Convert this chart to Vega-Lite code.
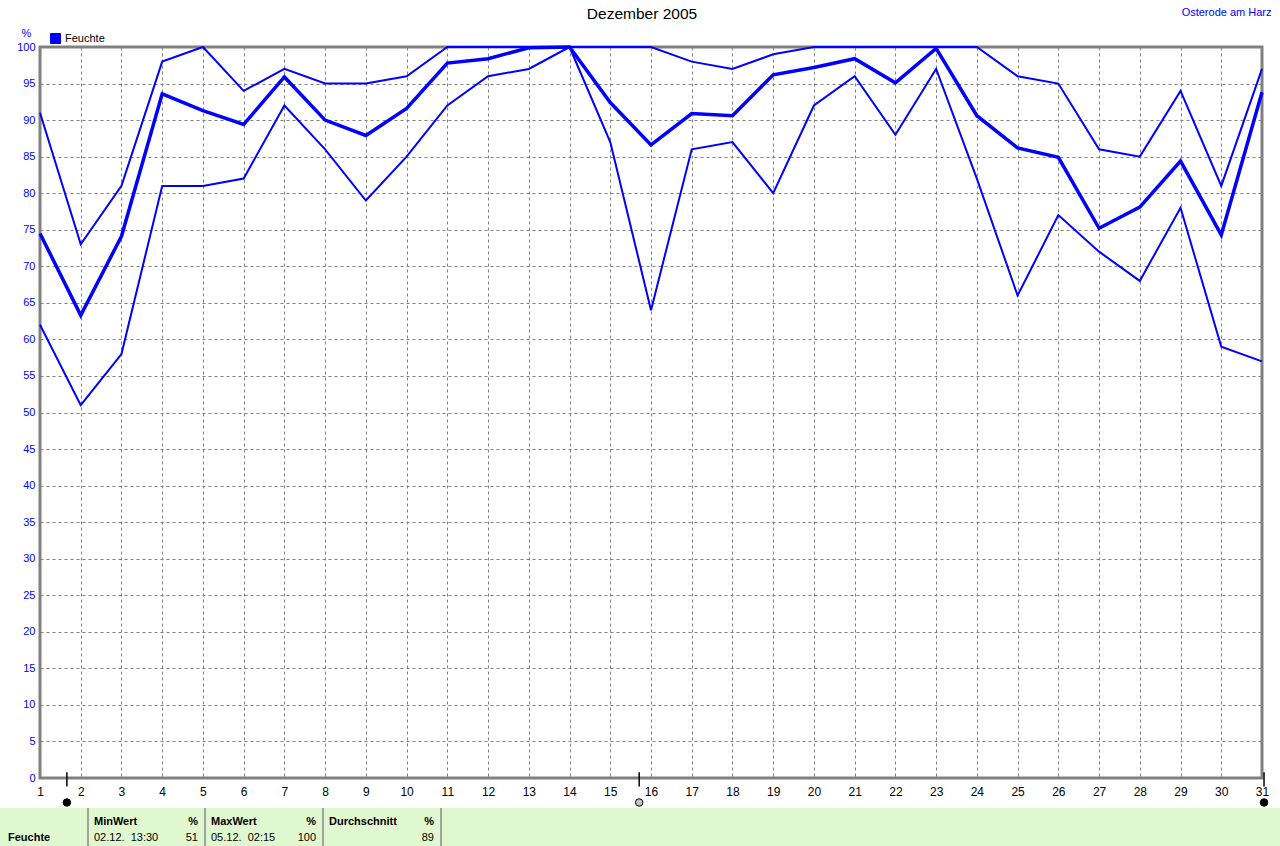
{
  "$schema": "https://vega.github.io/schema/vega-lite/v6.json",
  "width": 1222,
  "height": 731,
  "autosize": {"type": "none"},
  "padding": {"left": 40, "top": 47, "right": 18, "bottom": 68},
  "background": "white",
  "config": {
    "font": "Liberation Sans",
    "view": {"stroke": "#808080", "strokeWidth": 3}
  },
  "title": {
    "text": "Dezember 2005",
    "fontSize": 15.5,
    "fontWeight": "normal",
    "color": "black",
    "anchor": "middle",
    "frame": "group",
    "dx": -9,
    "dy": 20,
    "offset": 4
  },
  "datasets": {
    "hum": [
      {"day": 1, "stat": "max", "value": 91}, {"day": 2, "stat": "max", "value": 73}, {"day": 3, "stat": "max", "value": 81},
      {"day": 4, "stat": "max", "value": 98}, {"day": 5, "stat": "max", "value": 100}, {"day": 6, "stat": "max", "value": 94},
      {"day": 7, "stat": "max", "value": 97}, {"day": 8, "stat": "max", "value": 95}, {"day": 9, "stat": "max", "value": 95},
      {"day": 10, "stat": "max", "value": 96}, {"day": 11, "stat": "max", "value": 100}, {"day": 12, "stat": "max", "value": 100},
      {"day": 13, "stat": "max", "value": 100}, {"day": 14, "stat": "max", "value": 100}, {"day": 15, "stat": "max", "value": 100},
      {"day": 16, "stat": "max", "value": 100}, {"day": 17, "stat": "max", "value": 98}, {"day": 18, "stat": "max", "value": 97},
      {"day": 19, "stat": "max", "value": 99}, {"day": 20, "stat": "max", "value": 100}, {"day": 21, "stat": "max", "value": 100},
      {"day": 22, "stat": "max", "value": 100}, {"day": 23, "stat": "max", "value": 100}, {"day": 24, "stat": "max", "value": 100},
      {"day": 25, "stat": "max", "value": 96}, {"day": 26, "stat": "max", "value": 95}, {"day": 27, "stat": "max", "value": 86},
      {"day": 28, "stat": "max", "value": 85}, {"day": 29, "stat": "max", "value": 94}, {"day": 30, "stat": "max", "value": 81},
      {"day": 31, "stat": "max", "value": 97},
      {"day": 1, "stat": "avg", "value": 74.5}, {"day": 2, "stat": "avg", "value": 63.3}, {"day": 3, "stat": "avg", "value": 74.1},
      {"day": 4, "stat": "avg", "value": 93.6}, {"day": 5, "stat": "avg", "value": 91.3}, {"day": 6, "stat": "avg", "value": 89.4},
      {"day": 7, "stat": "avg", "value": 95.9}, {"day": 8, "stat": "avg", "value": 90.0}, {"day": 9, "stat": "avg", "value": 87.9},
      {"day": 10, "stat": "avg", "value": 91.6}, {"day": 11, "stat": "avg", "value": 97.8}, {"day": 12, "stat": "avg", "value": 98.4},
      {"day": 13, "stat": "avg", "value": 99.9}, {"day": 14, "stat": "avg", "value": 100}, {"day": 15, "stat": "avg", "value": 92.4},
      {"day": 16, "stat": "avg", "value": 86.6}, {"day": 17, "stat": "avg", "value": 90.9}, {"day": 18, "stat": "avg", "value": 90.6},
      {"day": 19, "stat": "avg", "value": 96.2}, {"day": 20, "stat": "avg", "value": 97.2}, {"day": 21, "stat": "avg", "value": 98.4},
      {"day": 22, "stat": "avg", "value": 95.1}, {"day": 23, "stat": "avg", "value": 99.8}, {"day": 24, "stat": "avg", "value": 90.6},
      {"day": 25, "stat": "avg", "value": 86.2}, {"day": 26, "stat": "avg", "value": 84.9}, {"day": 27, "stat": "avg", "value": 75.2},
      {"day": 28, "stat": "avg", "value": 78.1}, {"day": 29, "stat": "avg", "value": 84.4}, {"day": 30, "stat": "avg", "value": 74.3},
      {"day": 31, "stat": "avg", "value": 93.8},
      {"day": 1, "stat": "min", "value": 62}, {"day": 2, "stat": "min", "value": 51}, {"day": 3, "stat": "min", "value": 58},
      {"day": 4, "stat": "min", "value": 81}, {"day": 5, "stat": "min", "value": 81}, {"day": 6, "stat": "min", "value": 82},
      {"day": 7, "stat": "min", "value": 92}, {"day": 8, "stat": "min", "value": 86}, {"day": 9, "stat": "min", "value": 79},
      {"day": 10, "stat": "min", "value": 85}, {"day": 11, "stat": "min", "value": 92}, {"day": 12, "stat": "min", "value": 96},
      {"day": 13, "stat": "min", "value": 97}, {"day": 14, "stat": "min", "value": 100}, {"day": 15, "stat": "min", "value": 87},
      {"day": 16, "stat": "min", "value": 64}, {"day": 17, "stat": "min", "value": 86}, {"day": 18, "stat": "min", "value": 87},
      {"day": 19, "stat": "min", "value": 80}, {"day": 20, "stat": "min", "value": 92}, {"day": 21, "stat": "min", "value": 96},
      {"day": 22, "stat": "min", "value": 88}, {"day": 23, "stat": "min", "value": 97}, {"day": 24, "stat": "min", "value": 82},
      {"day": 25, "stat": "min", "value": 66}, {"day": 26, "stat": "min", "value": 77}, {"day": 27, "stat": "min", "value": 72},
      {"day": 28, "stat": "min", "value": 68}, {"day": 29, "stat": "min", "value": 78}, {"day": 30, "stat": "min", "value": 59},
      {"day": 31, "stat": "min", "value": 57}
    ],
    "moon": [
      {"day": 1.66, "phase": "Neumond"},
      {"day": 15.71, "phase": "Vollmond"},
      {"day": 31.05, "phase": "Neumond"}
    ],
    "stats": [
      {"c0": 1, "c1": 2, "head": "MinWert", "unit": "%", "when": "02.12.\u00a0\u00a013:30", "val": "51"},
      {"c0": 2, "c1": 3, "head": "MaxWert", "unit": "%", "when": "05.12.\u00a0\u00a002:15", "val": "100"},
      {"c0": 3, "c1": 4, "head": "Durchschnitt", "unit": "%", "when": "", "val": "89"}
    ],
    "rowlabel": [{"c0": 0, "name": "Feuchte"}],
    "seps": [{"c": 1}, {"c": 2}, {"c": 3}, {"c": 4}]
  },
  "layer": [
    {
      "layer": [
        {
          "data": {"name": "hum"},
          "transform": [{"filter": "datum.stat !== 'avg'"}],
          "mark": {"type": "line", "strokeJoin": "miter", "strokeWidth": 2},
          "encoding": {
            "x": {
              "field": "day",
              "type": "quantitative",
              "scale": {"domain": [1, 31], "nice": false, "zero": false},
              "axis": {
                "orient": "bottom",
                "values": [1,2,3,4,5,6,7,8,9,10,11,12,13,14,15,16,17,18,19,20,21,22,23,24,25,26,27,28,29,30,31],
                "title": null,
                "domain": false,
                "ticks": false,
                "labelFlush": false,
                "labelColor": "black",
                "labelFontSize": 12,
                "labelPadding": 8,
                "grid": true,
                "gridColor": "#808080",
                "gridDash": [3, 3],
                "gridWidth": 1,
                "gridOpacity": 1
              }
            },
            "y": {
              "field": "value",
              "type": "quantitative",
              "scale": {"domain": [0, 100], "nice": false},
              "axis": {
                "values": [0,5,10,15,20,25,30,35,40,45,50,55,60,65,70,75,80,85,90,95,100],
                "labelOverlap": false,
                "title": "%",
                "titleAngle": 0,
                "titleX": -14,
                "titleY": -14,
                "titleAlign": "center",
                "titleBaseline": "middle",
                "titleColor": "#0000ff",
                "titleFontSize": 11,
                "titleFontWeight": "normal",
                "domain": false,
                "ticks": false,
                "labelColor": "#0000ff",
                "labelFontSize": 11,
                "labelPadding": 5,
                "grid": true,
                "gridColor": "#808080",
                "gridDash": [3, 3],
                "gridWidth": 1,
                "gridOpacity": 1
              }
            },
            "detail": {"field": "stat"},
            "color": {
              "datum": "Feuchte",
              "scale": {"domain": ["Feuchte"], "range": ["#0000ff"]},
              "legend": {
                "orient": "none",
                "legendX": 10,
                "legendY": -14,
                "title": null,
                "padding": 0,
                "symbolType": "square",
                "symbolSize": 100,
                "symbolStrokeWidth": 1,
                "symbolFillColor": "#0000ff",
                "symbolStrokeColor": "black",
                "labelFontSize": 11,
                "labelColor": "black",
                "labelOffset": 4,
                "encode": {"symbols": {"update": {"fill": {"value": "#0000ff"}, "stroke": {"value": "black"}, "strokeWidth": {"value": 1}, "opacity": {"value": 1}}}}
              }
            }
          }
        },
        {
          "data": {"name": "hum"},
          "transform": [{"filter": "datum.stat === 'avg'"}],
          "mark": {"type": "line", "strokeJoin": "miter", "strokeWidth": 3.5},
          "encoding": {
            "x": {"field": "day", "type": "quantitative", "axis": null},
            "y": {
              "field": "value",
              "type": "quantitative",
              "axis": {
                "values": [0,5,10,15,20,25,30,35,40,45,50,55,60,65,70,75,80,85,90,95,100],
                "labelOverlap": false,
                "title": "%",
                "titleAngle": 0,
                "titleX": -14,
                "titleY": -14,
                "titleAlign": "center",
                "titleBaseline": "middle",
                "titleColor": "#0000ff",
                "titleFontSize": 11,
                "titleFontWeight": "normal",
                "domain": false,
                "ticks": false,
                "labelColor": "#0000ff",
                "labelFontSize": 11,
                "labelPadding": 5,
                "grid": true,
                "gridColor": "#808080",
                "gridDash": [3, 3],
                "gridWidth": 1,
                "gridOpacity": 1
              }
            },
            "color": {"datum": "Feuchte"}
          }
        },
        {
          "data": {"name": "moon"},
          "mark": {"type": "rule", "color": "black", "strokeWidth": 1.5},
          "encoding": {
            "x": {
              "field": "day",
              "type": "quantitative",
              "axis": {
                "orient": "top",
                "title": "Osterode am Harz",
                "labels": false,
                "ticks": false,
                "domain": false,
                "grid": false,
                "titleX": 1231,
                "titleY": -35,
                "titleAlign": "right",
                "titleAnchor": null,
                "titleBaseline": "middle",
                "titleColor": "#0000ff",
                "titleFontSize": 11,
                "titleFontWeight": "normal"
              }
            },
            "y": {
              "datum": 0.8,
              "axis": {
                "values": [0,5,10,15,20,25,30,35,40,45,50,55,60,65,70,75,80,85,90,95,100],
                "labelOverlap": false,
                "title": "%",
                "titleAngle": 0,
                "titleX": -14,
                "titleY": -14,
                "titleAlign": "center",
                "titleBaseline": "middle",
                "titleColor": "#0000ff",
                "titleFontSize": 11,
                "titleFontWeight": "normal",
                "domain": false,
                "ticks": false,
                "labelColor": "#0000ff",
                "labelFontSize": 11,
                "labelPadding": 5,
                "grid": true,
                "gridColor": "#808080",
                "gridDash": [3, 3],
                "gridWidth": 1,
                "gridOpacity": 1
              }
            },
            "y2": {"datum": -1.15}
          }
        },
        {
          "data": {"name": "moon"},
          "mark": {"type": "point", "shape": "circle", "filled": true, "size": 56, "stroke": "black", "strokeWidth": 1},
          "encoding": {
            "x": {"field": "day", "type": "quantitative", "axis": null},
            "y": {
              "datum": -3.35,
              "axis": {
                "values": [0,5,10,15,20,25,30,35,40,45,50,55,60,65,70,75,80,85,90,95,100],
                "labelOverlap": false,
                "title": "%",
                "titleAngle": 0,
                "titleX": -14,
                "titleY": -14,
                "titleAlign": "center",
                "titleBaseline": "middle",
                "titleColor": "#0000ff",
                "titleFontSize": 11,
                "titleFontWeight": "normal",
                "domain": false,
                "ticks": false,
                "labelColor": "#0000ff",
                "labelFontSize": 11,
                "labelPadding": 5,
                "grid": true,
                "gridColor": "#808080",
                "gridDash": [3, 3],
                "gridWidth": 1,
                "gridOpacity": 1
              }
            },
            "fill": {
              "field": "phase",
              "type": "nominal",
              "scale": {"domain": ["Neumond", "Vollmond"], "range": ["#000000", "#c4c4c4"]},
              "legend": null
            },
            "opacity": {"value": 1}
          }
        }
      ]
    },
    {
      "layer": [
        {
          "data": {"values": [{}]},
          "mark": {"type": "rect", "color": "#e0f8d0"},
          "encoding": {
            "x": {"datum": 0, "type": "quantitative", "scale": {"domain": [0, 1, 2, 3, 4, 5], "range": [-40, 48, 165, 283, 401, 1240], "nice": false, "zero": false}, "axis": null},
            "x2": {"datum": 5},
            "y": {"datum": 0, "type": "quantitative", "scale": {"domain": [0, 1, 2, 3], "range": [761, 775, 791, 799], "nice": false, "zero": false}, "axis": null},
            "y2": {"datum": 3}
          }
        },
        {
          "data": {"name": "seps"},
          "mark": {"type": "rule", "color": "#8a8a8a", "strokeWidth": 1.5},
          "encoding": {
            "x": {"field": "c", "type": "quantitative", "axis": null},
            "y": {"datum": 0},
            "y2": {"datum": 3}
          }
        },
        {
          "data": {"name": "stats"},
          "mark": {"type": "text", "align": "left", "baseline": "middle", "dx": 6, "fontWeight": "bold", "fontSize": 11, "color": "black"},
          "encoding": {
            "x": {"field": "c0", "type": "quantitative", "axis": null},
            "y": {"datum": 1},
            "text": {"field": "head"}
          }
        },
        {
          "data": {"name": "stats"},
          "mark": {"type": "text", "align": "right", "baseline": "middle", "dx": -7, "fontWeight": "bold", "fontSize": 11, "color": "black"},
          "encoding": {
            "x": {"field": "c1", "type": "quantitative", "axis": null},
            "y": {"datum": 1},
            "text": {"field": "unit"}
          }
        },
        {
          "data": {"name": "stats"},
          "mark": {"type": "text", "align": "left", "baseline": "middle", "dx": 6, "fontSize": 11, "color": "black"},
          "encoding": {
            "x": {"field": "c0", "type": "quantitative", "axis": null},
            "y": {"datum": 2},
            "text": {"field": "when"}
          }
        },
        {
          "data": {"name": "stats"},
          "mark": {"type": "text", "align": "right", "baseline": "middle", "dx": -7, "fontSize": 11, "color": "black"},
          "encoding": {
            "x": {"field": "c1", "type": "quantitative", "axis": null},
            "y": {"datum": 2},
            "text": {"field": "val"}
          }
        },
        {
          "data": {"name": "rowlabel"},
          "mark": {"type": "text", "align": "left", "baseline": "middle", "dx": 8, "fontWeight": "bold", "fontSize": 11, "color": "black"},
          "encoding": {
            "x": {"field": "c0", "type": "quantitative", "axis": null},
            "y": {"datum": 2},
            "text": {"field": "name"}
          }
        }
      ]
    }
  ],
  "resolve": {"scale": {"x": "independent", "y": "independent"}}
}
